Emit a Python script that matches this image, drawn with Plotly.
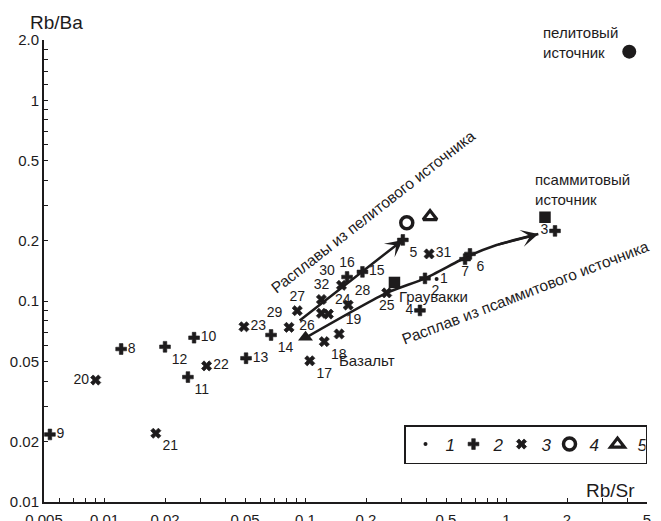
import numpy as np
import plotly.graph_objects as go

# ---- sample data: Rb/Sr (x) and Rb/Ba (y), grouped by legend type ----
g1_id = ["1"]
g1_rbsr = [0.449]
g1_rbba = [0.129]

g2_id = ["2", "3", "4", "5", "6", "7", "8", "9", "10", "11", "12", "13", "14", "15", "16"]
g2_rbsr = [0.393, 1.743, 0.371, 0.305, 0.658, 0.622, 0.0121, 0.00535, 0.0279, 0.026, 0.0200, 0.0506, 0.0674, 0.192, 0.161]
g2_rbba = [0.130, 0.224, 0.090, 0.202, 0.172, 0.162, 0.0578, 0.0217, 0.0658, 0.0419, 0.0593, 0.052, 0.0679, 0.140, 0.132]

g3_id = ["17", "18", "19", "20", "21", "22", "23", "24", "25", "26", "27", "28", "29", "30", "31", "32"]
g3_rbsr = [0.105, 0.124, 0.147, 0.00904, 0.018, 0.0322, 0.0494, 0.130, 0.2535, 0.120, 0.091, 0.163, 0.0828, 0.151, 0.412, 0.120]
g3_rbba = [0.0505, 0.0629, 0.0687, 0.0405, 0.022, 0.0476, 0.0746, 0.0863, 0.110, 0.0871, 0.0897, 0.0957, 0.0741, 0.120, 0.172, 0.102]

g4_rbsr = [0.319]
g4_rbba = [0.246]

g5_rbsr = [0.4165]
g5_rbba = [0.264]

# reference compositions
src_names = ["pelite", "psammite", "graywacke", "basalt"]
src_rbsr = [4.08, 1.554, 0.277, 0.100]
src_rbba = [1.75, 0.262, 0.124, 0.0661]

# melt trends
pelite_trend_rbsr = [0.092, 0.305]
pelite_trend_rbba = [0.079, 0.202]
psammite_trend_rbsr = [0.101, 0.2535, 0.393, 0.64, 0.893, 1.44]
psammite_trend_rbba = [0.0661, 0.110, 0.130, 0.167, 0.1905, 0.216]

# axis ticks
x_ticks = [0.005, 0.01, 0.02, 0.05, 0.1, 0.2, 0.5, 1, 2, 5]
x_ticktext = ["0.005", "0.01", "0.02", "0.05", "0.1", "0.2", "0.5", "1", "2", "5"]
y_ticks = [0.01, 0.02, 0.05, 0.1, 0.2, 0.5, 1, 2]
y_ticktext = ["0.01", "0.02", "0.05", "0.1", "0.2", "0.5", "1", "2.0"]

# where each sample number sits relative to its marker
label_pos = {
    "1": "middle right", "2": "bottom right", "3": "middle left", "4": "middle left",
    "5": "bottom right", "6": "bottom right", "7": "bottom center", "8": "middle right",
    "9": "middle right", "10": "middle right", "11": "bottom right", "12": "bottom right",
    "13": "middle right", "14": "bottom right", "15": "middle right", "16": "top center",
    "17": "bottom right", "18": "bottom right", "19": "top right", "20": "middle left",
    "21": "bottom right", "22": "middle right", "23": "middle right", "24": "top right",
    "25": "bottom center", "26": "bottom left", "27": "top center", "28": "top right",
    "29": "top left", "30": "top left", "31": "middle right", "32": "top center",
}

FONT = "Arial, Liberation Sans, sans-serif"
INK = "#1d1b1c"
W, H = 661, 521
ML, MR, MT, MB = 44, 14, 40, 19

minor_x = [v * m for v in (0.001, 0.01, 0.1, 1) for m in range(1, 10)]
minor_x = [v for v in minor_x if 0.005 <= v <= 5 and not any(abs(v - t) < 1e-9 for t in x_ticks)]
minor_y = [v * m for v in (0.01, 0.1) for m in range(3, 10) if m != 5] + [1.2, 1.4, 1.6, 1.8]

fig = go.Figure()

# melt trend line (drawn under the markers)
fig.add_trace(go.Scatter(
    x=psammite_trend_rbsr, y=psammite_trend_rbba, mode="lines",
    line=dict(color=INK, width=2.5, shape="spline", smoothing=0.6),
    showlegend=False, hoverinfo="skip"))


def pos(ids):
    return [label_pos[i] for i in ids]


fig.add_trace(go.Scatter(
    x=g1_rbsr, y=g1_rbba, mode="markers+text", name="1",
    text=g1_id, textposition=pos(g1_id),
    textfont=dict(family=FONT, size=14, color=INK),
    marker=dict(symbol="circle", size=4, color=INK, opacity=1)))

fig.add_trace(go.Scatter(
    x=g2_rbsr, y=g2_rbba, mode="markers+text", name="2",
    text=g2_id, textposition=pos(g2_id),
    textfont=dict(family=FONT, size=14, color=INK),
    marker=dict(symbol="cross", size=9, color=INK, opacity=1, line=dict(width=0.6, color=INK))))

fig.add_trace(go.Scatter(
    x=g3_rbsr, y=g3_rbba, mode="markers+text", name="3",
    text=g3_id, textposition=pos(g3_id),
    textfont=dict(family=FONT, size=14, color=INK),
    marker=dict(symbol="x", size=9, color=INK, opacity=1, line=dict(width=0.7, color=INK))))

fig.add_trace(go.Scatter(
    x=g4_rbsr, y=g4_rbba, mode="markers", name="4",
    marker=dict(symbol="circle-open", size=12, color=INK, opacity=1, line=dict(width=3.5, color=INK))))

fig.add_trace(go.Scatter(
    x=g5_rbsr, y=g5_rbba, mode="markers", name="5",
    marker=dict(symbol="triangle-up-open", size=12, color=INK, opacity=1, line=dict(width=3.2, color=INK))))

# reference compositions
src_symbols = ["circle", "square", "square", "triangle-up"]
src_sizes = [14, 11.5, 11.5, 13]
fig.add_trace(go.Scatter(
    x=src_rbsr, y=src_rbba, mode="markers", showlegend=False,
    text=src_names, hoverinfo="text",
    marker=dict(symbol=src_symbols, size=src_sizes, color=INK, opacity=1, line=dict(width=0))))

annotations = []

# arrowheads
arrow_style = dict(showarrow=True, arrowhead=3, arrowsize=1.15, arrowwidth=2.5,
                   arrowcolor=INK, axref="x", ayref="y", xref="x", yref="y", text="",
                   standoff=0, startstandoff=0)
annotations.append(dict(
    x=np.log10(pelite_trend_rbsr[-1]), y=np.log10(pelite_trend_rbba[-1]),
    ax=np.log10(pelite_trend_rbsr[0]), ay=np.log10(pelite_trend_rbba[0]), **arrow_style))
annotations.append(dict(
    x=np.log10(psammite_trend_rbsr[-1]), y=np.log10(psammite_trend_rbba[-1]),
    ax=np.log10(psammite_trend_rbsr[-2]), ay=np.log10(psammite_trend_rbba[-2]), **arrow_style))


def label(xv, yv, txt, size=15, angle=0, xanchor="left"):
    annotations.append(dict(
        x=np.log10(xv), y=np.log10(yv), xref="x", yref="y", text=txt, showarrow=False,
        textangle=angle, xanchor=xanchor, yanchor="middle", align="left",
        font=dict(family=FONT, size=size, color=INK)))


label(1.484, 1.94, "пелитовый<br>источник")
label(1.355, 0.360, "псаммитовый<br>источник")
label(0.285, 0.1053, "Граувакки")
label(0.1435, 0.0506, "Базальт")
label(0.217, 0.281, "Расплавы из пелитового источника", size=15.5, angle=-38, xanchor="center")
label(1.246, 0.110, "Расплав из псаммитового источника", size=15.5, angle=-21, xanchor="center")

# axis titles
annotations.append(dict(x=0.02, y=1.0, xref="paper", yref="paper", yshift=18,
                        text="Rb/Ba", showarrow=False, xanchor="center", yanchor="middle",
                        font=dict(family=FONT, size=19, color=INK)))
annotations.append(dict(x=0.94, y=0.0, xref="paper", yref="paper", yshift=12,
                        text="Rb/Sr", showarrow=False, xanchor="center", yanchor="middle",
                        font=dict(family=FONT, size=19, color=INK)))

axis_common = dict(
    type="log", showgrid=False, zeroline=False, showline=True, linewidth=2, linecolor=INK,
    ticks="inside", ticklen=4, tickwidth=1, tickcolor=INK, automargin=False,
    tickfont=dict(family=FONT, size=15, color=INK),
)

fig.update_layout(
    width=W, height=H,
    margin=dict(l=ML, r=MR, t=MT, b=MB, pad=0, autoexpand=False),
    paper_bgcolor="white", plot_bgcolor="white",
    template="none",
    xaxis=dict(range=[np.log10(0.005), np.log10(5)], tickvals=x_ticks, ticktext=x_ticktext,
               minor=dict(tickvals=minor_x, ticks="inside", ticklen=4, tickcolor=INK),
               ticklabelstandoff=3, **axis_common),
    yaxis=dict(range=[np.log10(0.01), np.log10(2)], tickvals=y_ticks, ticktext=y_ticktext,
               minor=dict(tickvals=minor_y, ticks="inside", ticklen=4, tickcolor=INK),
               ticklabelstandoff=0, **axis_common),
    legend=dict(orientation="h", x=1.0, y=(502 - 425) / (H - MT - MB),
                xanchor="right", yanchor="top", bordercolor=INK, borderwidth=1.5,
                bgcolor="white", itemwidth=30, entrywidth=3, traceorder="normal",
                font=dict(family=FONT, size=17, color=INK, style="italic")),
    annotations=annotations,
)

fig.write_html("out.html")
